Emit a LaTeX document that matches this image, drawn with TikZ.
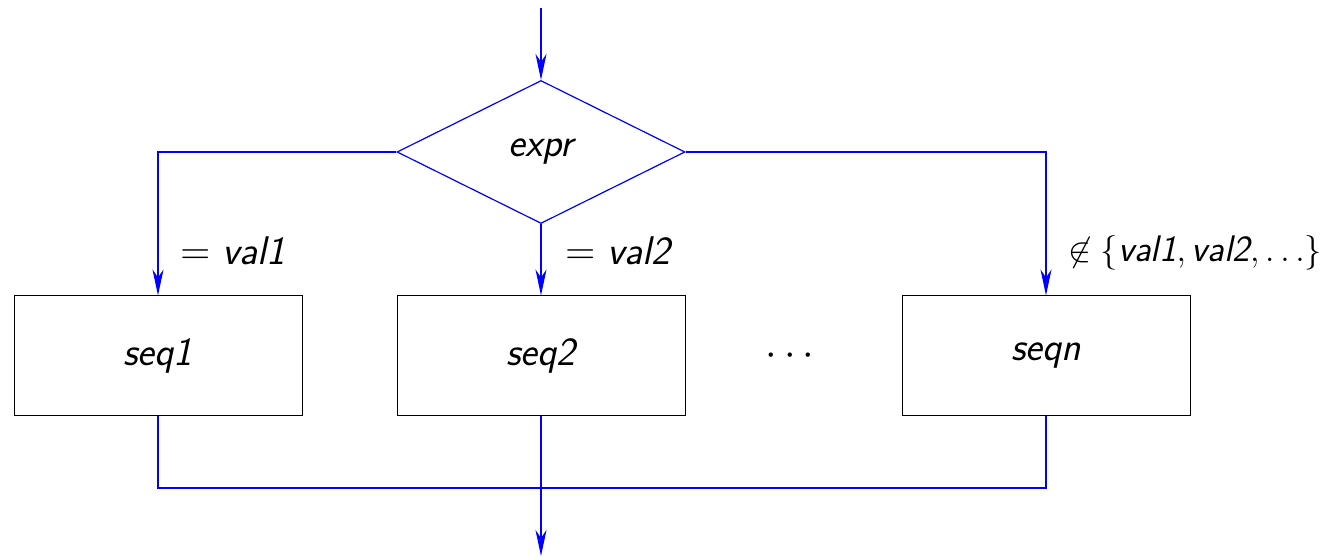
\documentclass[tikz,border=0pt]{standalone}
\usepackage{amssymb}
\usetikzlibrary{arrows.meta,shapes.geometric}
\begin{document}
\begin{tikzpicture}[x=0.5pt,y=-0.5pt,
  font=\fontsize{20}{24}\selectfont\sffamily\itshape,
  flow/.style={blue,line width=0.6pt},
  arr/.style={flow,-{Stealth[length=13pt,width=5.5pt,inset=4pt]}},
  seqbox/.style={draw=black,line width=0.5pt,minimum width=144pt,minimum height=60pt,inner sep=0pt},
  lbl/.style={anchor=west,inner sep=0pt}]
\useasboundingbox (0,0) rectangle (1341,560);
\coordinate (start) at (541,8);
\node[flow,draw,diamond,minimum width=144pt,minimum height=71.5pt,inner sep=0pt,aspect=2] (expr) at (541,152) {\color{black}expr};
\node[seqbox] (s1) at (158,356) {seq1};
\node[seqbox] (s2) at (541,356) {seq2};
\node[seqbox] (sn) at (1046,356) {seqn};
\node (dots) at (790,356) {$\cdots$};
\coordinate (join) at (541,488);
\coordinate (end) at (541,556);
\draw[arr] (start) -- (expr.north);
\draw[arr] (expr.west) -| (s1.north);
\draw[arr] (expr.south) -- (s2.north);
\draw[arr] (expr.east) -| (sn.north);
\draw[flow] (s1.south) |- (join) -| (sn.south);
\draw[arr] (s2.south) -- (end);
\node[lbl] (l1) at (180,251) {$=$\hspace{0.3em}val1};
\node[lbl] (l2) at (565,251) {$=$\hspace{0.3em}val2};
\node[lbl,font=\fontsize{18.5}{22}\selectfont\sffamily\itshape] (l3) at (1068,253) {$\not\in \{$val1$,\,$val2$,\ldots\}$};
\end{tikzpicture}
\end{document}
